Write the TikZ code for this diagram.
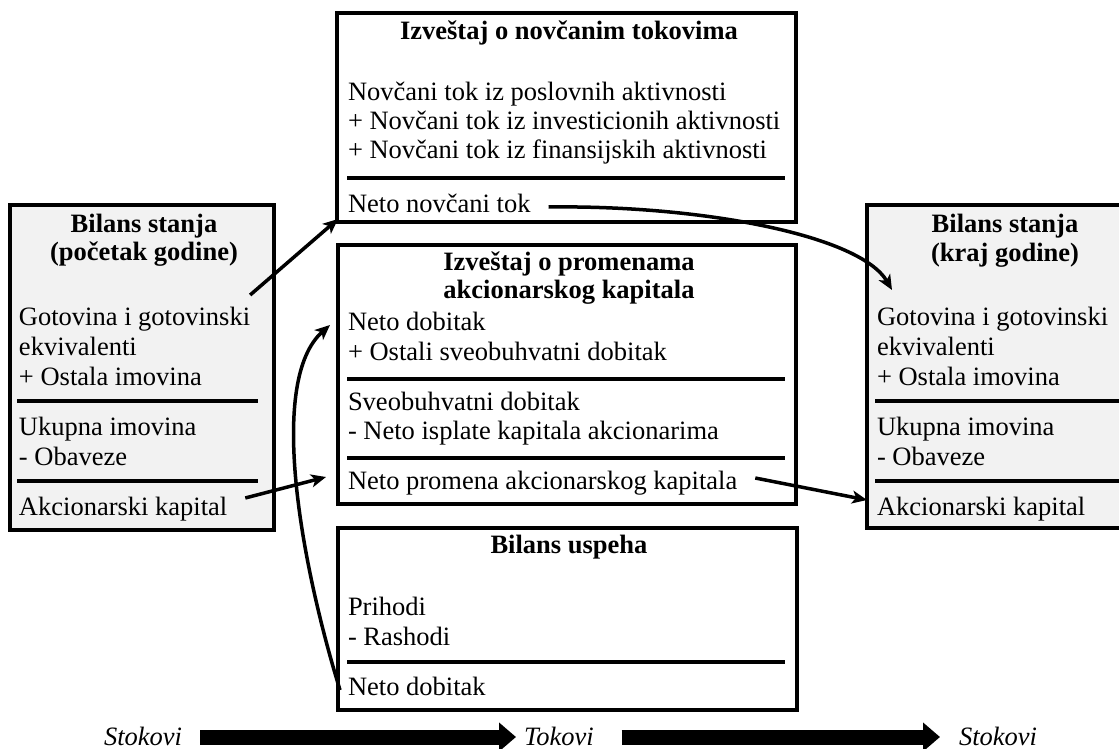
\documentclass[tikz,border=0pt]{standalone}
\usepackage{fontspec}
\setmainfont{Liberation Serif}
\usetikzlibrary{arrows.meta,calc}
\definecolor{panelgray}{RGB}{242,242,242}
\begin{document}
\begin{tikzpicture}[x=1pt,y=-1pt,
  every node/.style={inner sep=0pt, outer sep=0pt, font=\fontsize{26.5pt}{30pt}\selectfont},
  panel/.style={draw, rectangle, line width=4pt, anchor=north west},
  shaded/.style={panel, fill=panelgray},
  txt/.style={anchor=base west},
  ttl/.style={anchor=base, font=\fontsize{26.5pt}{30pt}\selectfont\bfseries},
  flowlabel/.style={anchor=base west, font=\fontsize{26.5pt}{30pt}\selectfont\itshape},
  rule/.style={line width=3.5pt},
  conn/.style={line width=3.5pt, -{Stealth[length=15pt,width=13pt,inset=4pt]}},
  flow/.style={line width=15pt, -{Triangle[length=17pt,width=28pt]}}]
\clip (0,0) rectangle (1119,749);

% --- statement frames ---
\node[panel, minimum width=459pt, minimum height=209pt] (cf) at (337,13) {};
\node[panel, minimum width=458pt, minimum height=259pt] (eq) at (338,245) {};
\node[panel, minimum width=459pt, minimum height=182pt] (is) at (338,528) {};
\node[shaded, minimum width=264pt, minimum height=325pt] (bs0) at (10,205) {};
\node[shaded, minimum width=276pt, minimum height=323pt] (bs1) at (867,205) {};

% --- cash flow statement ---
\node[ttl] (cfT) at (569,40) {Izveštaj o novčanim tokovima};
\node[txt] (cf1) at (348,101) {Novčani tok iz poslovnih aktivnosti};
\node[txt] (cf2) at (348,130) {+ Novčani tok iz investicionih aktivnosti};
\node[txt] (cf3) at (348,159) {+ Novčani tok iz finansijskih aktivnosti};
\draw[rule] (347,178) -- (785,178);
\node[txt] (cfN) at (348,212) {Neto novčani tok};

% --- statement of changes in equity ---
\node[ttl] (eqT1) at (569,270) {Izveštaj o promenama};
\node[ttl] (eqT2) at (569,298) {akcionarskog kapitala};
\node[txt] (eqND) at (348,330) {Neto dobitak};
\node[txt] (eq2) at (348,360) {+ Ostali sveobuhvatni dobitak};
\draw[rule] (347,379) -- (785,379);
\node[txt] (eq3) at (348,410) {Sveobuhvatni dobitak};
\node[txt] (eq4) at (348,439) {- Neto isplate kapitala akcionarima};
\draw[rule] (347,458) -- (785,458);
\node[txt] (eqN) at (348,489) {Neto promena akcionarskog kapitala};

% --- income statement ---
\node[ttl] (isT) at (569,553) {Bilans uspeha};
\node[txt] (is1) at (348,615) {Prihodi};
\node[txt] (is2) at (348,645) {- Rashodi};
\draw[rule] (347,662) -- (785,662);
\node[txt] (isN) at (348,695) {Neto dobitak};

% --- opening balance sheet ---
\node[ttl] (b0T1) at (144,232) {Bilans stanja};
\node[ttl] (b0T2) at (144,260) {(početak godine)};
\node[txt] (b0G) at (19,325) {Gotovina i gotovinski};
\node[txt] (b0E) at (19,355) {ekvivalenti};
\node[txt] (b0O) at (19,385) {+ Ostala imovina};
\draw[rule] (17,401) -- (258,401);
\node[txt] (b0U) at (19,435) {Ukupna imovina};
\node[txt] (b0B) at (19,465) {- Obaveze};
\draw[rule] (17,481) -- (258,481);
\node[txt] (b0A) at (19,515) {Akcionarski kapital};

% --- closing balance sheet ---
\node[ttl] (b1T1) at (1005,232) {Bilans stanja};
\node[ttl] (b1T2) at (1005,261) {(kraj godine)};
\node[txt] (b1G) at (877,325) {Gotovina i gotovinski};
\node[txt] (b1E) at (877,355) {ekvivalenti};
\node[txt] (b1O) at (877,385) {+ Ostala imovina};
\draw[rule] (875,401) -- (1130,401);
\node[txt] (b1U) at (877,435) {Ukupna imovina};
\node[txt] (b1B) at (877,465) {- Obaveze};
\draw[rule] (875,481) -- (1130,481);
\node[txt] (b1A) at (877,515) {Akcionarski kapital};

% --- links between the statements ---
\draw[conn] ($(b0G.base east)+(0,-30)$) -- ($(cf.south west)+(1,-3)$);
\draw[conn] ($(b0A.base east)+(18,-17)$) -- ($(eq.south west)+(-12,-27)$);
\draw[conn] ($(isN.base west)+(-8,-5)$) .. controls +(-40,-130) and +(-62,55) .. ($(eqND.base west)+(-18,-5)$);
\draw[conn] ($(cfN.base east)+(18,-5)$) .. controls +(152,-2) and +(-32,-55) .. ($(bs1.north west)+(25,85)$);
\draw[conn] ($(eqN.base east)+(18,-11)$) -- ($(bs1.south west)+(0,-28)$);

% --- stocks / flows / stocks ---
\node[flowlabel] (s0) at (104,745) {Stokovi};
\node[flowlabel] (fl) at (524,745) {Tokovi};
\node[flowlabel] (s1) at (959,745) {Stokovi};
\draw[flow] (200,737) -- ($(fl.base west)+(-8,-8)$);
\draw[flow] ($(fl.base east)+(28,-8)$) -- ($(s1.base west)+(-19,-8)$);
\end{tikzpicture}
\end{document}
